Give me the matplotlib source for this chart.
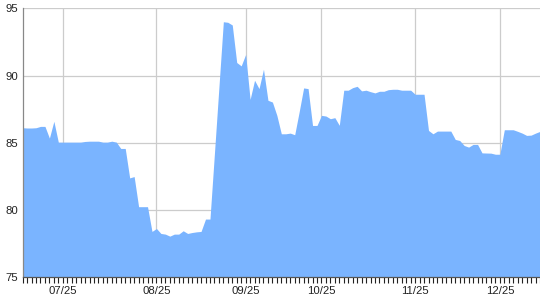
import matplotlib
matplotlib.use("Agg")
import matplotlib.pyplot as plt
import numpy as np

plt.rcParams['font.family'] = ['Liberation Sans', 'DejaVu Sans']

values = [
    86.12, 86.10, 86.10, 86.12, 86.22, 86.22, 85.35, 86.60, 85.05, 85.05,
    85.05, 85.05, 85.05, 85.05, 85.10, 85.12, 85.12, 85.12, 85.05, 85.05,
    85.12, 85.05, 84.58, 84.58, 82.39, 82.49, 80.25, 80.25, 80.25, 78.41,
    78.63, 78.26, 78.21, 78.06, 78.21, 78.21, 78.46, 78.26, 78.33, 78.38,
    78.41, 79.33, 79.33, 84.20, 89.10, 94.00, 93.96, 93.76, 90.97, 90.72,
    91.57, 88.23, 89.65, 89.03, 90.47, 88.16, 88.03, 87.04, 85.67, 85.67,
    85.72, 85.60, 87.30, 89.08, 89.03, 86.29, 86.29, 87.04, 86.99, 86.79,
    86.87, 86.30, 88.91, 88.91, 89.10, 89.20, 88.86, 88.91, 88.80, 88.71,
    88.83, 88.83, 88.95, 88.98, 88.98, 88.91, 88.91, 88.91, 88.61, 88.61,
    88.61, 85.92, 85.67, 85.87, 85.87, 85.87, 85.87, 85.25, 85.17, 84.80,
    84.68, 84.88, 84.88, 84.25, 84.24, 84.23, 84.15, 84.15, 85.97, 85.97,
    85.97, 85.85, 85.72, 85.55, 85.57, 85.72, 85.85,
]
tick_labels = ["07/25", "08/25", "09/25", "10/25", "11/25", "12/25"]
tick_index = [9, 30, 50, 67, 88, 107]
y_ticks = [75, 80, 85, 90, 95]

x = np.arange(len(values))

fig = plt.figure(figsize=(5.4, 3.0), dpi=100)
ax = fig.add_axes([22.65 / 540, 1 - 277.3 / 300, 1 - 22.65 / 540, (277.3 - 8.3) / 300])

ax.fill_between(x, 75, values, color='#7ab4ff', linewidth=0, zorder=2)

ax.set_xlim(0, len(values) - 1)
ax.set_ylim(75, 95)

ax.set_yticks(y_ticks)
ax.set_yticklabels([str(v) for v in y_ticks])
ax.set_xticks(tick_index)
ax.set_xticklabels(tick_labels)
ax.set_xticks(x, minor=True)

ax.tick_params(axis='y', length=0, pad=3, labelsize=8.2, labelcolor='#222222')
ax.tick_params(axis='x', which='major', length=4, width=0.8, color='#222222',
               pad=2, labelsize=8.2, labelcolor='#222222', direction='out')
ax.tick_params(axis='x', which='minor', length=4, width=0.8, color='#222222', direction='out')

ax.grid(True, which='major', color='#cccccc', linewidth=0.9)
ax.set_axisbelow(True)

for side in ['top', 'right']:
    ax.spines[side].set_visible(False)
ax.spines['left'].set_color('#888888')
ax.spines['left'].set_linewidth(0.9)
ax.spines['bottom'].set_color('#555555')
ax.spines['bottom'].set_linewidth(0.9)
ax.spines['bottom'].set_zorder(3)

fig.savefig('out.png', dpi=100)
